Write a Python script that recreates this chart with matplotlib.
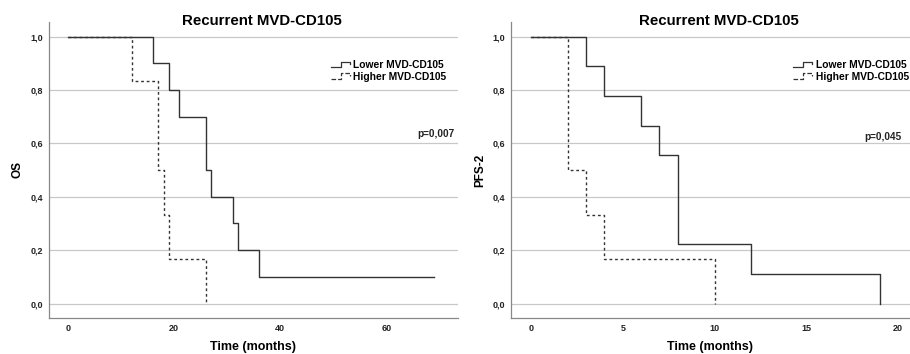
import matplotlib
matplotlib.use('Agg')
import matplotlib.pyplot as plt
from matplotlib.legend_handler import HandlerBase
from matplotlib.lines import Line2D

plt.rcParams['font.family'] = ['Liberation Sans', 'DejaVu Sans']
plt.rcParams['font.weight'] = 'bold'

# Kaplan-Meier steps
os_low_t = [0, 16, 19, 21, 26, 27, 31, 32, 36, 69]
os_low_s = [1.0, 0.9, 0.8, 0.7, 0.5, 0.4, 0.3, 0.2, 0.1, 0.1]
os_high_t = [0, 12, 17, 18, 19, 26]
os_high_s = [1.0, 0.833, 0.5, 0.333, 0.167, 0.0]

pfs_low_t = [0, 3, 4, 6, 7, 8, 12, 19]
pfs_low_s = [1.0, 0.889, 0.778, 0.667, 0.556, 0.222, 0.111, 0.0]
pfs_high_t = [0, 2, 3, 4, 10]
pfs_high_s = [1.0, 0.5, 0.333, 0.167, 0.0]

labels = ['Lower MVD-CD105', 'Higher MVD-CD105']
yticks = [0.0, 0.2, 0.4, 0.6, 0.8, 1.0]


class StepHandler(HandlerBase):
    # little step glyph like SPSS uses in its legend
    def create_artists(self, legend, orig_handle, xdescent, ydescent,
                       width, height, fontsize, trans):
        x0 = -xdescent
        y0 = -ydescent
        xs = [x0, x0 + 0.5 * width, x0 + 0.5 * width, x0 + 0.95 * width, x0 + 0.95 * width]
        ys = [y0 + 0.15 * height, y0 + 0.15 * height, y0 + 0.9 * height,
              y0 + 0.9 * height, y0 + 0.55 * height]
        ln = Line2D(xs, ys, color=orig_handle.get_color(),
                    linestyle=orig_handle.get_linestyle(), lw=0.9)
        ln.set_transform(trans)
        return [ln]


fig = plt.figure(figsize=(9.1, 3.54), dpi=100)
ax1 = fig.add_axes([0.0538, 0.1017, 0.4495, 0.8363])
ax2 = fig.add_axes([0.5615, 0.1017, 0.4385, 0.8363])

panels = [
    (ax1, os_low_t, os_low_s, os_high_t, os_high_s, 'OS', 'p=0,007',
     (-3.6, 73.5), [0, 20, 40, 60], 72.8, 0.636, 0.69),
    (ax2, pfs_low_t, pfs_low_s, pfs_high_t, pfs_high_s, 'PFS-2', 'p=0,045',
     (-1.09, 20.65), [0, 5, 10, 15, 20], 20.2, 0.623, 0.708),
]

for ax, lt, ls, ht, hs, ylab, ptxt, xl, xt, px, py, lgx in panels:
    for y in yticks:
        ax.axhline(y, color='#c8c8c8', lw=0.9, zorder=0)
    l1, = ax.step(lt, ls, where='post', color='#333333', lw=1.0)
    l2, = ax.step(ht, hs, where='post', color='#333333', lw=1.0,
                  linestyle=(0, (2, 2)))
    ax.set_xlim(*xl)
    ax.set_ylim(-0.054, 1.055)
    ax.set_xticks(xt)
    ax.set_xticklabels([str(v) for v in xt])
    ax.set_yticks(yticks)
    ax.set_yticklabels([('%.1f' % v).replace('.', ',') for v in yticks])
    ax.tick_params(length=0, labelsize=6.5, colors='#222222', pad=4)
    for s in ['top', 'right']:
        ax.spines[s].set_visible(False)
    for s in ['left', 'bottom']:
        ax.spines[s].set_color('#888888')
        ax.spines[s].set_linewidth(0.9)
    ax.set_xlabel('Time (months)', fontsize=9, fontweight='bold', labelpad=6)
    ax.set_ylabel(ylab, fontsize=8.5, fontweight='bold', labelpad=5)
    ax.set_title('Recurrent MVD-CD105', fontsize=10.8, fontweight='bold',
                 x=0.52, y=0.99, pad=0)
    ax.text(px, py, ptxt, fontsize=7.2, fontweight='bold', ha='right',
            va='center', color='#222222')
    ax.legend([l1, l2], labels, handler_map={Line2D: StepHandler()},
              loc='upper left', bbox_to_anchor=(lgx, 0.87), frameon=False,
              fontsize=7.4, handlelength=1.9, handletextpad=0.25,
              labelspacing=0.12, borderpad=0, borderaxespad=0)

fig.savefig('out.png', dpi=100)
